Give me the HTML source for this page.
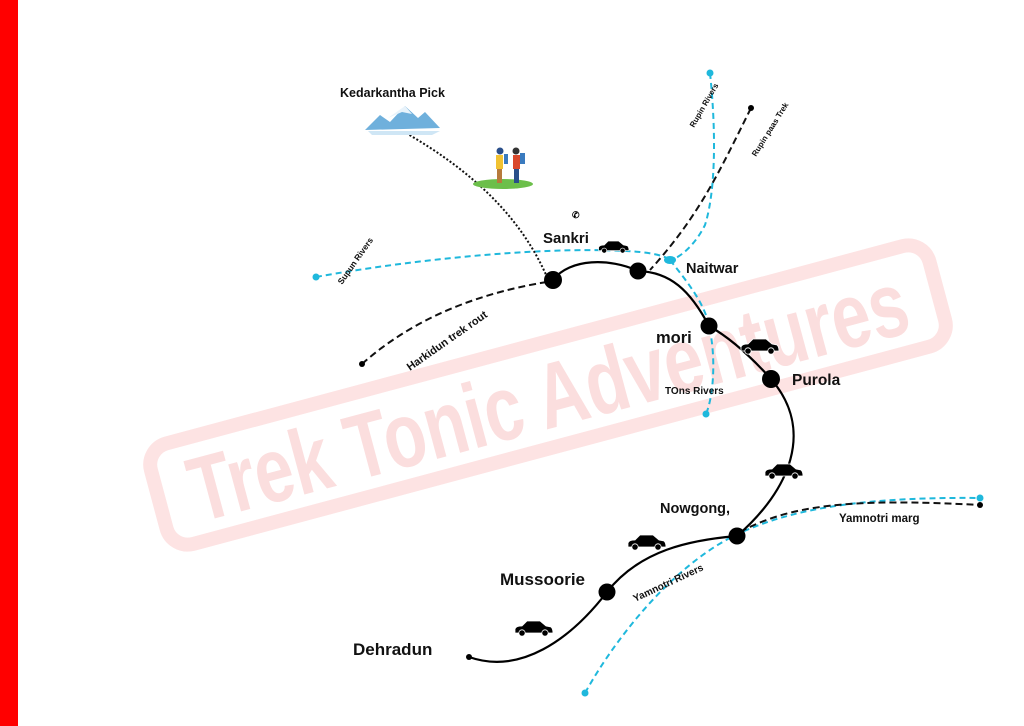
<!DOCTYPE html>
<html><head><meta charset="utf-8"><style>
html,body{margin:0;padding:0;background:#fff;}
svg{display:block;}
text{font-family:"Liberation Sans",sans-serif;font-weight:bold;}
</style></head><body>
<svg width="1024" height="726" viewBox="0 0 1024 726" xmlns="http://www.w3.org/2000/svg">
<rect x="0" y="0" width="18" height="726" fill="#ff0000"/>
<!-- watermark -->
<g transform="rotate(-15 548 395)">
  <rect x="145" y="343" width="806" height="104" rx="22" fill="none" stroke="#fde3e3" stroke-width="14"/>
  <text x="548" y="428" text-anchor="middle" font-size="92" textLength="740" lengthAdjust="spacingAndGlyphs" fill="#fbdede" style="font-family:'Liberation Sans',sans-serif;font-weight:bold">Trek Tonic Adventures</text>
</g>
<g fill="none" stroke-width="2">
  <path d="M316,277 C420,258 560,245 640,252 C660,254 668,258 670,260" stroke="#1fb8dc" stroke-dasharray="6,4"/>
  <path d="M710,73 C716,130 716,190 705,225 C695,245 680,258 670,260" stroke="#1fb8dc" stroke-dasharray="6,4"/>
  <path d="M670,260 C690,285 705,305 709,326 C716,355 714,395 706,414" stroke="#1fb8dc" stroke-dasharray="6,4"/>
  <path d="M585,693 C620,630 680,560 740,533 C800,505 880,497 980,498" stroke="#1fb8dc" stroke-dasharray="6,4"/>
  <path d="M751,108 C720,170 700,215 650,270" stroke="#111" stroke-dasharray="7,4"/>
  <path d="M362,364 C400,330 460,295 553,281" stroke="#111" stroke-dasharray="7,4"/>
  <path d="M740,532 C790,505 850,498 980,505" stroke="#111" stroke-dasharray="7,4"/>
  <path d="M406,133 C470,170 520,215 547,277" stroke="#111" stroke-dasharray="2,2"/>
  <path d="M469,657 C520,675 570,640 607,592 C640,550 690,540 737,536 C790,490 815,430 771,379 C745,350 725,335 709,326 C690,290 670,272 638,271 C610,258 570,258 553,280" stroke="#000" stroke-width="2.2"/>
</g>
<g fill="#1fb8dc"><circle cx="316" cy="277" r="3.5"/><circle cx="710" cy="73" r="3.5"/><circle cx="706" cy="414" r="3.5"/><circle cx="585" cy="693" r="3.5"/><circle cx="980" cy="498" r="3.5"/><ellipse cx="670" cy="260" rx="6" ry="4"/></g>
<g fill="#000"><circle cx="751" cy="108" r="3"/><circle cx="362" cy="364" r="3"/><circle cx="980" cy="505" r="3"/><circle cx="469" cy="657" r="3"/>
<circle cx="553" cy="280" r="9"/><circle cx="638" cy="271" r="8.5"/><circle cx="709" cy="326" r="8.5"/><circle cx="771" cy="379" r="9"/><circle cx="737" cy="536" r="8.5"/><circle cx="607" cy="592" r="8.5"/></g>
<g fill="#000" stroke="#fff" stroke-width="0.8">
<g transform="translate(597,241) scale(0.8)"><path d="M2,12 L2,8 Q3,5 9,5 L14,0 L27,0 L33,5 L38,6 Q40,8 40,12 Z"/><circle cx="9" cy="12" r="3.2"/><circle cx="32" cy="12" r="3.2"/></g>
<g transform="translate(739,339)"><path d="M2,12 L2,8 Q3,5 9,5 L14,0 L27,0 L33,5 L38,6 Q40,8 40,12 Z"/><circle cx="9" cy="12" r="3.2"/><circle cx="32" cy="12" r="3.2"/></g>
<g transform="translate(763,464)"><path d="M2,12 L2,8 Q3,5 9,5 L14,0 L27,0 L33,5 L38,6 Q40,8 40,12 Z"/><circle cx="9" cy="12" r="3.2"/><circle cx="32" cy="12" r="3.2"/></g>
<g transform="translate(626,535)"><path d="M2,12 L2,8 Q3,5 9,5 L14,0 L27,0 L33,5 L38,6 Q40,8 40,12 Z"/><circle cx="9" cy="12" r="3.2"/><circle cx="32" cy="12" r="3.2"/></g>
<g transform="translate(513,621)"><path d="M2,12 L2,8 Q3,5 9,5 L14,0 L27,0 L33,5 L38,6 Q40,8 40,12 Z"/><circle cx="9" cy="12" r="3.2"/><circle cx="32" cy="12" r="3.2"/></g>
</g>
<g>
<path d="M365,130 L380,115 L390,122 L405,106 L418,118 L425,112 L440,128 Z" fill="#6fb0dc"/>
<path d="M368,131 L440,131 L432,135 L372,135 Z" fill="#cfe6f5"/>
<path d="M388,118 L405,106 L412,114 L402,112 Z" fill="#e8f3fb"/>
</g>
<g>
<ellipse cx="503" cy="184" rx="30" ry="5" fill="#6cbf4a"/>
<rect x="496" y="155" width="7" height="14" fill="#f1c232"/><rect x="497" y="169" width="5" height="14" fill="#b77a3c"/><circle cx="500" cy="151" r="3.5" fill="#2a4f8a"/>
<rect x="513" y="155" width="7" height="14" fill="#d9482b"/><rect x="514" y="169" width="5" height="14" fill="#2a4f8a"/><circle cx="516" cy="151" r="3.5" fill="#333"/>
<rect x="520" y="153" width="5" height="11" fill="#3a7bbf"/><rect x="504" y="154" width="4" height="10" fill="#3a7bbf"/>
</g>
<text x="572" y="218" font-size="9" fill="#000">✆</text>
<text x="340" y="97" font-size="12.5" fill="#111">Kedarkantha Pick</text>
<text x="543" y="243" font-size="15" fill="#111">Sankri</text>
<text x="686" y="273" font-size="14.5" fill="#111">Naitwar</text>
<text x="656" y="343" font-size="16.5" fill="#111">mori</text>
<text x="792" y="385" font-size="15.5" fill="#111">Purola</text>
<text x="660" y="513" font-size="14.5" fill="#111">Nowgong,</text>
<text x="500" y="585" font-size="17" fill="#111">Mussoorie</text>
<text x="353" y="655" font-size="17" fill="#111">Dehradun</text>
<text x="839" y="522" font-size="11.5" fill="#111">Yamnotri marg</text>
<text x="665" y="394" font-size="10" fill="#111">TOns Rivers</text>
<text transform="translate(635,602) rotate(-25)" font-size="10" fill="#111">Yamnotri Rivers</text>
<text transform="translate(410,371) rotate(-35)" font-size="11" fill="#111">Harkidun trek rout</text>
<text transform="translate(342,285) rotate(-55)" font-size="8.5" fill="#111">Supun Rivers</text>
<text transform="translate(694,128) rotate(-60)" font-size="8" fill="#111">Rupin Rivers</text>
<text transform="translate(756,157) rotate(-58)" font-size="8" fill="#111">Rupin paas Trek</text>
</svg>
</body></html>
